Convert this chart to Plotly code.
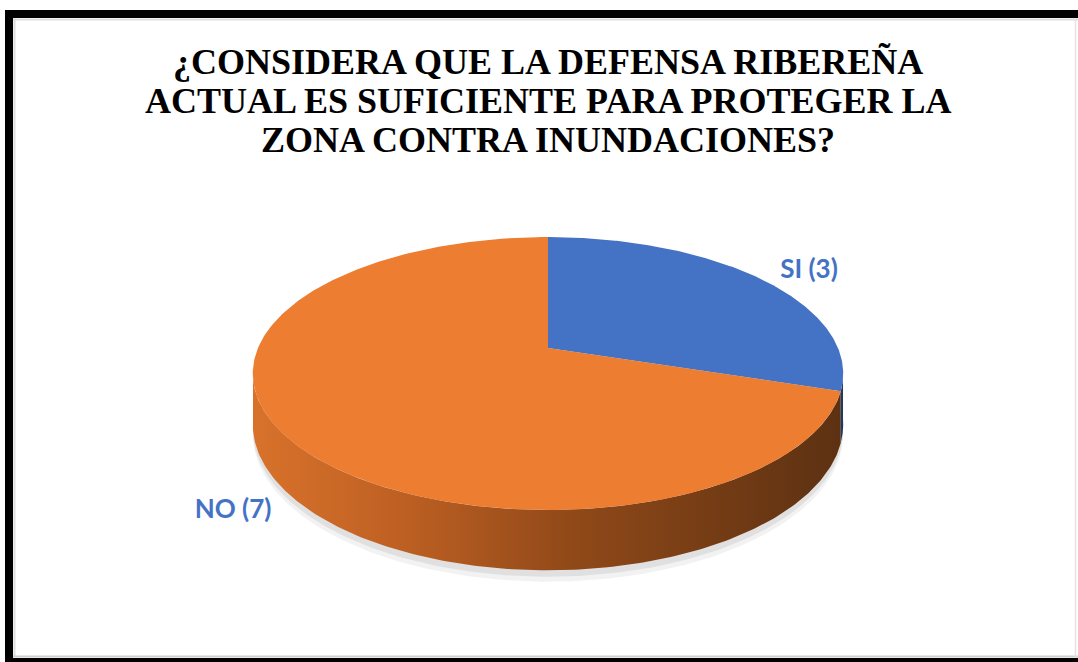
import numpy as np
import plotly.graph_objects as go

# ---- data ----
categories = ["SI", "NO"]
values = [3, 7]
labels = ["SI (3)", "NO (7)"]
top_colors = ["#4472C4", "#ED7D31"]
side_scales = [
    [[0, "#2F5597"], [1, "#1F3864"]],
    [[0, "#D8722B"], [0.25, "#BE6023"], [0.55, "#8F4818"], [1, "#5C3112"]],
]
title_lines = [
    "¿CONSIDERA QUE LA DEFENSA RIBEREÑA",
    "ACTUAL ES SUFICIENTE PARA PROTEGER LA",
    "ZONA CONTRA INUNDACIONES?",
]

W, H = 1078, 662
cx, cy = 548, 348        # pie centre (pixels)
a, b, k = 290, 131.7, 0.187  # semi axes and perspective factor
depth = 49


def proj(theta_deg, dz=0.0):
    t = np.radians(theta_deg)
    u, v = np.sin(t), np.cos(t)
    den = 1 + k * v
    return cx + a * u / den, cy - b * v / den + dz / den


fig = go.Figure()

# soft shadow
for off, op in [(14, 0.05), (8, 0.07)]:
    th = np.linspace(0, 360, 361)
    x, y = proj(th, depth + off * 0.5)
    fig.add_trace(go.Scatter(x=x, y=y + off * 0.2, fill="toself", mode="lines",
                             line=dict(width=0), fillcolor=f"rgba(0,0,0,{op})",
                             hoverinfo="skip", showlegend=False))

total = sum(values)
angles = np.cumsum([0] + [v / total * 360 for v in values])
sil_r = np.degrees(np.arccos(-k))          # right silhouette angle
sil_l = 360 - sil_r                         # left silhouette angle

# sides (front, visible part)
for i in range(len(values)):
    s, e = angles[i], angles[i + 1]
    s2, e2 = max(s, sil_r - 2), min(e, sil_l + 2)
    if e2 <= s2:
        continue
    th = np.linspace(s2, e2, 200)
    xt, yt = proj(th)
    xb, yb = proj(th[::-1], depth)
    fig.add_trace(go.Scatter(
        x=np.concatenate([xt, xb]), y=np.concatenate([yt, yb]),
        fill="toself", mode="lines", line=dict(width=0),
        fillgradient=dict(type="horizontal", colorscale=side_scales[i],
                          start=cx - a - 5, stop=cx + a + 5),
        hoverinfo="skip", showlegend=False))

# top faces
for i in range(len(values)):
    s, e = angles[i], angles[i + 1]
    th = np.linspace(s, e, 300)
    xt, yt = proj(th)
    fig.add_trace(go.Scatter(
        x=np.concatenate([[cx], xt, [cx]]), y=np.concatenate([[cy], yt, [cy]]),
        fill="toself", mode="lines", line=dict(width=0),
        fillcolor=top_colors[i], name=categories[i],
        hoverinfo="skip", showlegend=False))

# data labels
fig.add_trace(go.Scatter(
    x=[809, 233], y=[271, 511], mode="text", text=labels,
    textfont=dict(family="Lato", size=26, color="#4472C4", weight="bold"),
    hoverinfo="skip", showlegend=False))

# title
for j, line in enumerate(title_lines):
    fig.add_annotation(x=548, y=62 + j * 39, text=f"<b>{line}</b>", showarrow=False,
                       xref="x", yref="y", xanchor="center", yanchor="middle",
                       font=dict(family="Liberation Serif", size=36, color="#000000"))

# frame
shapes = [
    dict(type="rect", x0=5, x1=W + 2, y0=10, y1=18, fillcolor="black", line_width=0),
    dict(type="rect", x0=5, x1=13, y0=10, y1=H + 2, fillcolor="black", line_width=0),
    dict(type="rect", x0=5, x1=W + 2, y0=658, y1=H + 2, fillcolor="black", line_width=0),
    dict(type="line", x0=13, x1=W, y0=19.5, y1=19.5, line=dict(color="#DDDDDD", width=2)),
    dict(type="line", x0=14.5, x1=14.5, y0=18, y1=657, line=dict(color="#DDDDDD", width=2)),
    dict(type="line", x0=13, x1=W, y0=656.5, y1=656.5, line=dict(color="#D0D0D0", width=2)),
    dict(type="line", x0=1075.5, x1=1075.5, y0=18, y1=657, line=dict(color="#E4E4E4", width=1.5)),
]

fig.update_layout(
    width=W, height=H, margin=dict(l=0, r=0, t=0, b=0),
    paper_bgcolor="white", plot_bgcolor="white",
    xaxis=dict(range=[0, W], visible=False, fixedrange=True),
    yaxis=dict(range=[H, 0], visible=False, fixedrange=True),
    shapes=shapes,
)

fig.write_html(
    "out.html",
    config={"displayModeBar": False, "staticPlot": True},
    post_script="document.body.style.margin='0';document.body.style.overflow='hidden';",
)
